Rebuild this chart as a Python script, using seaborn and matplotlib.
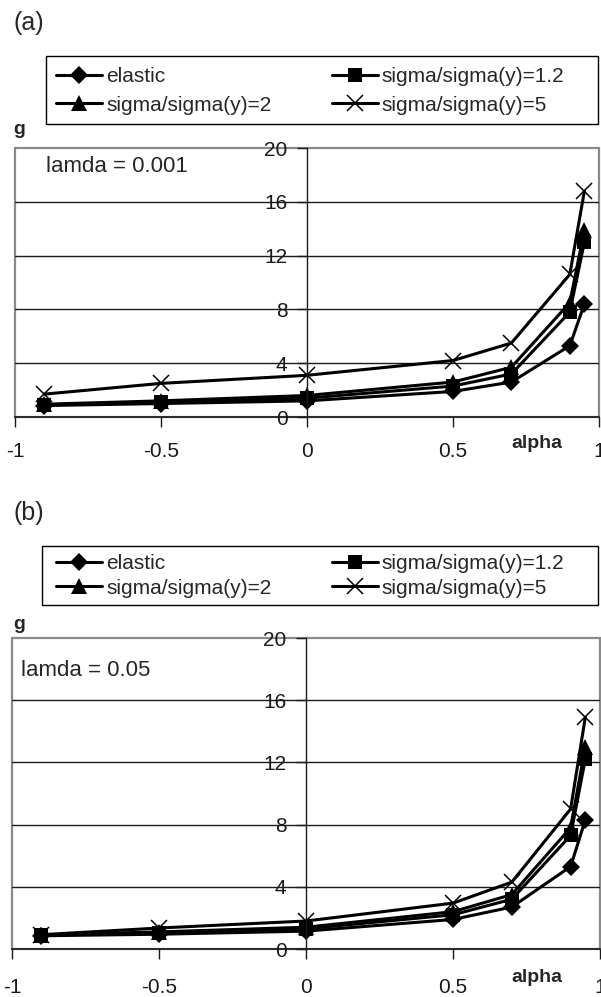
import matplotlib
matplotlib.use("Agg")
import matplotlib.pyplot as plt
from matplotlib.patches import Rectangle
import seaborn as sns

# data
alpha = [-0.9, -0.5, 0, 0.5, 0.7, 0.9, 0.95]
series = ['elastic', 'sigma/sigma(y)=1.2', 'sigma/sigma(y)=2', 'sigma/sigma(y)=5']

# (a) lamda = 0.001
a_elastic = [0.85, 1.0, 1.2, 1.9, 2.6, 5.3, 8.4]
a_s12 = [0.9, 1.1, 1.4, 2.3, 3.2, 7.8, 13.0]
a_s2 = [0.95, 1.2, 1.6, 2.6, 3.7, 8.5, 13.9]
a_s5 = [1.7, 2.5, 3.1, 4.2, 5.5, 10.6, 16.8]

# (b) lamda = 0.05
b_elastic = [0.85, 0.95, 1.15, 1.9, 2.7, 5.3, 8.3]
b_s12 = [0.9, 1.05, 1.3, 2.2, 3.2, 7.3, 12.2]
b_s2 = [0.9, 1.1, 1.4, 2.4, 3.5, 7.8, 13.0]
b_s5 = [0.92, 1.35, 1.8, 2.95, 4.3, 9.0, 14.9]

xticks = [-1, -0.5, 0, 0.5, 1]
xtick_labels = ['-1', '-0.5', '0', '0.5', '1']
yticks = [0, 4, 8, 12, 16, 20]

sns.set_style("white")
plt.rcParams['font.family'] = ['Liberation Sans', 'DejaVu Sans']

W, H = 601, 997
fig = plt.figure(figsize=(W / 100, H / 100), dpi=100)

marker_kw = [
    dict(marker='D', ms=9, mew=0),
    dict(marker='s', ms=10, mew=0),
    dict(marker='^', ms=11, mew=0),
    dict(marker='x', ms=12, mew=1.1),
]


def fx(px):
    return px / W


def fy(py):
    return 1 - py / H


def panel(g, values):
    ax = fig.add_axes([fx(g['left']), fy(g['bottom']),
                       fx(g['right'] - g['left']), (g['bottom'] - g['top']) / H])
    for name, vals, kw in zip(series, values, marker_kw):
        sns.lineplot(x=alpha, y=vals, ax=ax, color='black', lw=2.2,
                     mec='black', mfc='black', label=name, legend=False, **kw)
    ax.set_xlim(-1, 1)
    ax.set_ylim(0, 20)
    ax.set_xlabel('')
    ax.set_ylabel('')
    ax.set_xticks(xticks)
    ax.set_xticklabels(xtick_labels)
    ax.set_yticks(yticks)
    ax.set_yticklabels([str(t) for t in yticks])
    for t in yticks[1:-1]:
        ax.axhline(t, color='#1a1a1a', lw=1.0, zorder=0.5)

    ax.spines['top'].set_visible(False)
    ax.spines['right'].set_visible(False)
    ax.spines['left'].set_position(('data', 0))
    ax.spines['left'].set_color('#1a1a1a')
    ax.spines['bottom'].set_color('#1a1a1a')
    ax.spines['left'].set_linewidth(1.0)
    ax.spines['bottom'].set_linewidth(1.2)
    ax.patch.set_edgecolor('#8a8a8a')
    ax.patch.set_linewidth(1.6)

    ax.tick_params(axis='y', direction='out', length=7, width=1, pad=7,
                   labelsize=15, left=True, colors='#1a1a1a')
    ax.tick_params(axis='x', direction='out', length=7, width=1, pad=g['xpad'],
                   labelsize=15, bottom=True, colors='#1a1a1a')

    # legend: rows filled as elastic, 1.2 / 2, 5
    handles, labels = ax.get_legend_handles_labels()
    order = [0, 2, 1, 3]
    fig.legend([handles[i] for i in order], [labels[i] for i in order],
               loc='center left', ncol=2, frameon=False,
               bbox_to_anchor=(fx(56), fy(g['leg_mid'])),
               fontsize=15, handlelength=2.2, handletextpad=0.2,
               labelspacing=g['leg_space'], borderpad=0, borderaxespad=0,
               columnspacing=2.9)
    lx0, ly0, lx1, ly1 = g['leg_box']
    fig.patches.append(Rectangle((fx(lx0), fy(ly1)), fx(lx1 - lx0), (ly1 - ly0) / H,
                                 transform=fig.transFigure, fill=False,
                                 edgecolor='black', lw=1.0))

    fig.text(fx(13), fy(g['tag_y']), g['tag'], fontsize=18, va='center', ha='left')
    fig.text(fx(13), fy(g['g_y']), 'g', fontsize=14, fontweight='bold',
             va='center', ha='left')
    fig.text(fx(g['lam_x']), fy(g['lam_y']), g['lam'], fontsize=16,
             va='center', ha='left')
    fig.text(fx(537), fy(g['alpha_y']), 'alpha', fontsize=14, fontweight='bold',
             va='center', ha='center')
    return ax


geo_a = dict(left=15, right=599, top=148, bottom=417, xpad=11,
             leg_mid=91, leg_space=0.45, leg_box=(46, 56, 598, 124),
             tag='(a)', tag_y=23, g_y=129, lam='lamda = 0.001', lam_x=46, lam_y=167,
             alpha_y=443)
geo_b = dict(left=12, right=600, top=638, bottom=949, xpad=14,
             leg_mid=576, leg_space=0.25, leg_box=(42, 546, 598, 605),
             tag='(b)', tag_y=513, g_y=624, lam='lamda = 0.05', lam_x=21, lam_y=670,
             alpha_y=977)

panel(geo_a, [a_elastic, a_s12, a_s2, a_s5])
panel(geo_b, [b_elastic, b_s12, b_s2, b_s5])

fig.savefig('out.png', dpi=100)
